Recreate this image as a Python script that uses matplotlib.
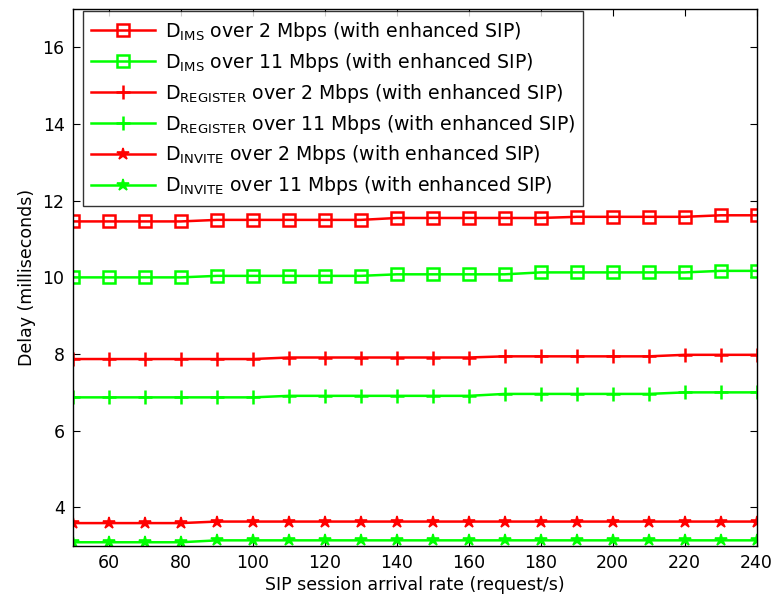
import matplotlib
matplotlib.use("Agg")
import matplotlib.pyplot as plt

plt.rcParams['font.family'] = ['DejaVu Sans']
plt.rcParams['mathtext.fontset'] = 'dejavusans'

rate = [50, 60, 70, 80, 90, 100, 110, 120, 130, 140, 150, 160, 170, 180, 190, 200, 210, 220, 230, 240]

ims_2 = [11.46, 11.46, 11.46, 11.46, 11.50, 11.50, 11.50, 11.50, 11.50, 11.55, 11.55, 11.55, 11.55, 11.55,
         11.58, 11.58, 11.58, 11.58, 11.62, 11.62]
ims_11 = [10.00, 10.00, 10.00, 10.00, 10.04, 10.04, 10.04, 10.04, 10.04, 10.08, 10.08, 10.08, 10.08, 10.13,
          10.13, 10.13, 10.13, 10.13, 10.17, 10.17]
reg_2 = [7.87, 7.87, 7.87, 7.87, 7.87, 7.87, 7.91, 7.91, 7.91, 7.91, 7.91, 7.91, 7.94, 7.94,
         7.94, 7.94, 7.94, 7.98, 7.98, 7.98]
reg_11 = [6.87, 6.87, 6.87, 6.87, 6.87, 6.87, 6.91, 6.91, 6.91, 6.91, 6.91, 6.91, 6.96, 6.96,
          6.96, 6.96, 6.96, 7.00, 7.00, 7.00]
inv_2 = [3.59, 3.59, 3.59, 3.59, 3.63, 3.63, 3.63, 3.63, 3.63, 3.63, 3.63, 3.63, 3.63, 3.63,
         3.63, 3.63, 3.63, 3.63, 3.63, 3.63]
inv_11 = [3.09, 3.09, 3.09, 3.09, 3.14, 3.14, 3.14, 3.14, 3.14, 3.14, 3.14, 3.14, 3.14, 3.14,
          3.14, 3.14, 3.14, 3.14, 3.14, 3.14]

labels = [
    r'D$_{\mathrm{IMS}}$ over 2 Mbps (with enhanced SIP)',
    r'D$_{\mathrm{IMS}}$ over 11 Mbps (with enhanced SIP)',
    r'D$_{\mathrm{REGISTER}}$ over 2 Mbps (with enhanced SIP)',
    r'D$_{\mathrm{REGISTER}}$ over 11 Mbps (with enhanced SIP)',
    r'D$_{\mathrm{INVITE}}$ over 2 Mbps (with enhanced SIP)',
    r'D$_{\mathrm{INVITE}}$ over 11 Mbps (with enhanced SIP)',
]

red = '#ff0000'
green = '#00ff00'
fs = 12.5

fig = plt.figure(figsize=(7.76, 6.04), dpi=100)
ax = fig.add_axes([0.094, 0.0965, 0.881, 0.8885])

ax.plot(rate, ims_2, color=red, lw=1.8, marker='s', ms=9, mfc='none', mew=1.8, label=labels[0])
ax.plot(rate, ims_11, color=green, lw=1.8, marker='s', ms=9, mfc='none', mew=1.8, label=labels[1])
ax.plot(rate, reg_2, color=red, lw=1.8, marker='+', ms=10, mew=1.8, label=labels[2])
ax.plot(rate, reg_11, color=green, lw=1.8, marker='+', ms=10, mew=1.8, label=labels[3])
ax.plot(rate, inv_2, color=red, lw=1.8, marker='*', ms=9, mew=1.2, label=labels[4])
ax.plot(rate, inv_11, color=green, lw=1.8, marker='*', ms=9, mew=1.2, label=labels[5])

ax.set_xlim(50, 240)
ax.set_ylim(3, 17)
ax.set_xticks(range(60, 241, 20))
ax.set_yticks(range(4, 17, 2))
ax.tick_params(direction='in', top=True, right=True, labelsize=fs, length=5, width=0.8, pad=6)
for s in ax.spines.values():
    s.set_linewidth(1.0)

ax.set_xlabel('SIP session arrival rate (request/s)', fontsize=fs, labelpad=3)
ax.set_ylabel('Delay (milliseconds)', fontsize=fs, labelpad=5)

leg = ax.legend(loc='upper left', fontsize=13.6, frameon=True, fancybox=False, edgecolor='black',
                handlelength=3.4, handletextpad=0.5, labelspacing=0.42, borderpad=0.45,
                bbox_to_anchor=(0.014, 0.996), borderaxespad=0.0)
leg.get_frame().set_linewidth(1.0)

fig.savefig('out.png', dpi=100)
